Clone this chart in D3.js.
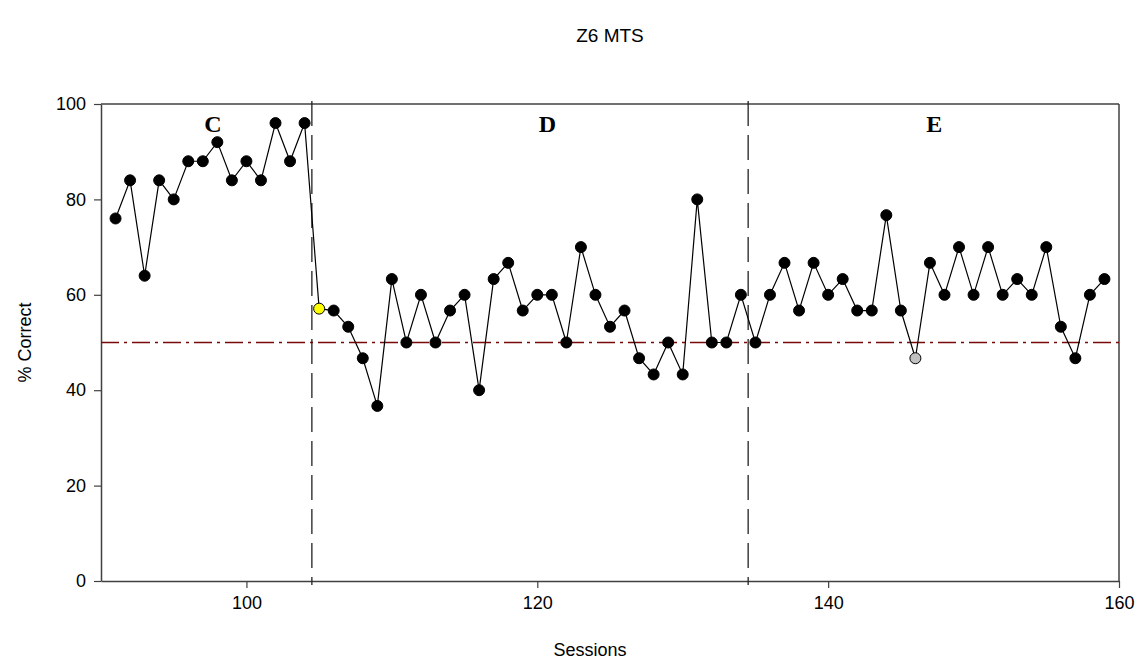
<!DOCTYPE html>
<html>
<head>
<meta charset="utf-8">
<title>Z6 MTS</title>
<script src="https://cdn.jsdelivr.net/npm/d3@7"></script>
<style>
  body { margin: 0; background: #fff; }
  svg text { font-family: "Liberation Sans", Arial, sans-serif; }
  .phase { font-family: "Liberation Serif", "Times New Roman", serif !important; font-weight: bold; }
</style>
</head>
<body>
<div id="chart"></div>
<script>
// sessions and % correct
const sessions = [91, 92, 93, 94, 95, 96, 97, 98, 99, 100, 101, 102, 103, 104,
  105, 106, 107, 108, 109, 110, 111, 112, 113, 114, 115, 116, 117, 118, 119, 120,
  121, 122, 123, 124, 125, 126, 127, 128, 129, 130, 131, 132, 133, 134,
  135, 136, 137, 138, 139, 140, 141, 142, 143, 144, 145, 146, 147, 148, 149, 150,
  151, 152, 153, 154, 155, 156, 157, 158, 159];
const correct = [76, 84, 64, 84, 80, 88, 88, 92, 84, 88, 84, 96, 88, 96,
  57.1, 56.7, 53.3, 46.7, 36.7, 63.3, 50, 60, 50, 56.7, 60, 40, 63.3, 66.7, 56.7, 60,
  60, 50, 70, 60, 53.3, 56.7, 46.7, 43.3, 50, 43.3, 80, 50, 50, 60,
  50, 60, 66.7, 56.7, 66.7, 60, 63.3, 56.7, 56.7, 76.7, 56.7, 46.7, 66.7, 60, 70, 60,
  70, 60, 63.3, 60, 70, 53.3, 46.7, 60, 63.3];
// special markers
const highlight = { 105: "#ffff00", 146: "#c0c0c0" };

const xTicks = [100, 120, 140, 160];
const yTicks = [0, 20, 40, 60, 80, 100];
const phaseBreaks = [104.5, 134.5];
const phaseLabels = ["C", "D", "E"];
const phaseLabelX = [97.7, 120.7, 147.3];
const chance = 50;

const width = 1139, height = 664;
const margin = { left: 101, right: 20, top: 104, bottom: 83 };

const svg = d3.select("#chart").append("svg")
  .attr("width", width)
  .attr("height", height);

const x = d3.scaleLinear().domain([90, 160]).range([margin.left, width - margin.right]);
const y = d3.scaleLinear().domain([0, 100]).range([height - margin.bottom, margin.top]);

const data = sessions.map((s, i) => ({ s: s, v: correct[i] }));
const axisColor = "#404040";

// frame top and right
svg.append("line")
  .attr("x1", x(90)).attr("x2", x(160))
  .attr("y1", y(100)).attr("y2", y(100))
  .attr("stroke", axisColor).attr("stroke-width", 1.5);
svg.append("line")
  .attr("x1", x(160)).attr("x2", x(160))
  .attr("y1", y(100)).attr("y2", y(0))
  .attr("stroke", axisColor).attr("stroke-width", 1.5);

const xAxis = svg.append("g")
  .attr("transform", "translate(0," + y(0) + ")")
  .call(d3.axisBottom(x).tickValues(xTicks).tickSize(7).tickPadding(8).tickSizeOuter(0));
const yAxis = svg.append("g")
  .attr("transform", "translate(" + x(90) + ",0)")
  .call(d3.axisLeft(y).tickValues(yTicks).tickSize(7).tickPadding(8).tickSizeOuter(0));

[xAxis, yAxis].forEach(g => {
  g.select(".domain").attr("stroke", axisColor).attr("stroke-width", 1.5);
  g.selectAll(".tick line").attr("stroke", axisColor).attr("stroke-width", 1.2);
  g.selectAll(".tick text")
    .attr("fill", "#000")
    .style("font-size", "18px")
    .style("font-family", "'Liberation Sans', Arial, sans-serif");
});

// chance line
svg.append("line")
  .attr("x1", x(90)).attr("x2", x(160))
  .attr("y1", y(chance)).attr("y2", y(chance))
  .attr("stroke", "#7a0a0a")
  .attr("stroke-width", 1.3)
  .attr("stroke-dasharray", "18,5,3,5");

// phase change lines
svg.selectAll(".phase-line")
  .data(phaseBreaks)
  .enter()
  .append("line")
  .attr("class", "phase-line")
  .attr("x1", d => x(d)).attr("x2", d => x(d))
  .attr("y1", y(100) - 3).attr("y2", y(0) + 4)
  .attr("stroke", "#222")
  .attr("stroke-width", 1.3)
  .attr("stroke-dasharray", "25,9");

// phase labels
svg.selectAll(".phase")
  .data(phaseLabels)
  .enter()
  .append("text")
  .attr("class", "phase")
  .attr("x", (d, i) => x(phaseLabelX[i]))
  .attr("y", y(94.1))
  .attr("text-anchor", "middle")
  .style("font-size", "24px")
  .text(d => d);

// data line
svg.append("path")
  .datum(data)
  .attr("fill", "none")
  .attr("stroke", "#000")
  .attr("stroke-width", 1.2)
  .attr("d", d3.line().x(d => x(d.s)).y(d => y(d.v)));

svg.selectAll(".dot")
  .data(data)
  .enter()
  .append("circle")
  .attr("class", "dot")
  .attr("cx", d => x(d.s))
  .attr("cy", d => y(d.v))
  .attr("r", 5.5)
  .attr("fill", d => highlight[d.s] || "#000")
  .attr("stroke", "#000")
  .attr("stroke-width", 1);

// titles
svg.append("text")
  .attr("x", (x(90) + x(160)) / 2)
  .attr("y", 42)
  .attr("text-anchor", "middle")
  .style("font-size", "19px")
  .text("Z6 MTS");

svg.append("text")
  .attr("x", (x(90) + x(160)) / 2 - 20)
  .attr("y", 656)
  .attr("text-anchor", "middle")
  .style("font-size", "18px")
  .text("Sessions");

svg.append("text")
  .attr("transform", "translate(31," + ((y(0) + y(100)) / 2) + ") rotate(-90)")
  .attr("text-anchor", "middle")
  .style("font-size", "18px")
  .text("% Correct");
</script>
</body>
</html>
